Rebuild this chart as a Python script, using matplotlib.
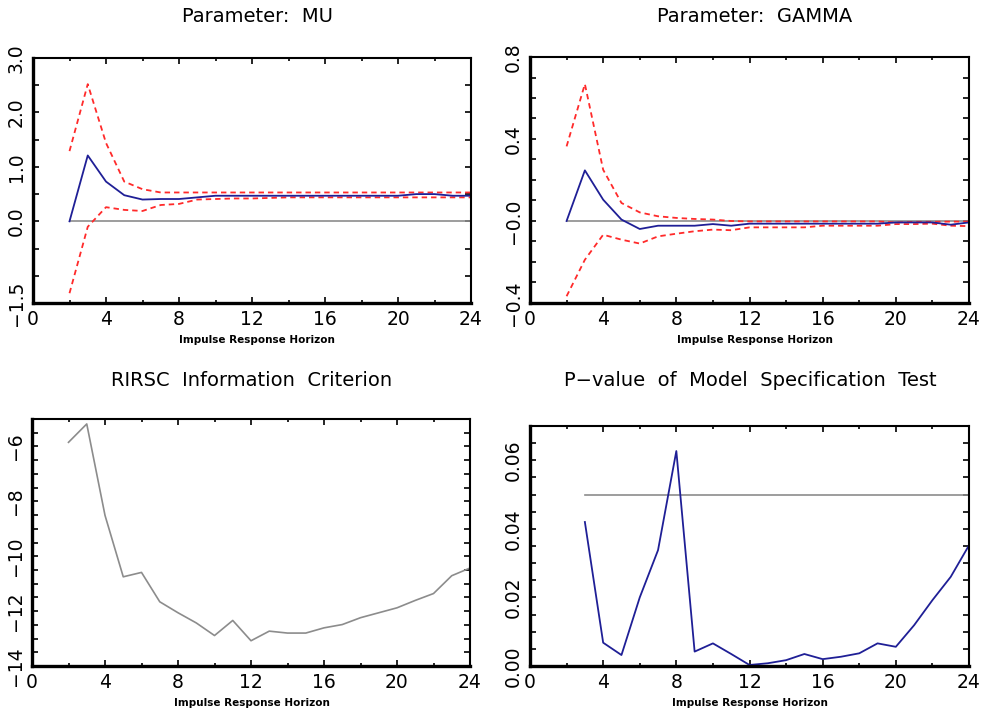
import numpy as np
import matplotlib
matplotlib.use("Agg")
import matplotlib.pyplot as plt

plt.rcParams['font.family'] = ['DejaVu Sans']

horizon = list(range(2, 25))

# Parameter: MU
mu_est = [0.0, 1.21, 0.73, 0.48, 0.40, 0.41, 0.41, 0.44, 0.47, 0.47, 0.47, 0.47,
          0.47, 0.47, 0.47, 0.47, 0.47, 0.47, 0.47, 0.50, 0.50, 0.47, 0.47]
mu_upper = [1.29, 2.52, 1.44, 0.73, 0.59, 0.53, 0.53, 0.53, 0.53, 0.53, 0.53, 0.53,
            0.53, 0.53, 0.53, 0.53, 0.53, 0.53, 0.53, 0.53, 0.53, 0.53, 0.53]
mu_lower = [-1.32, -0.10, 0.26, 0.21, 0.19, 0.30, 0.32, 0.40, 0.41, 0.42, 0.42, 0.43,
            0.44, 0.44, 0.44, 0.44, 0.44, 0.44, 0.44, 0.44, 0.44, 0.44, 0.44]

# Parameter: GAMMA
gamma_est = [0.0, 0.247, 0.104, 0.007, -0.039, -0.023, -0.023, -0.023, -0.015, -0.023,
             -0.013, -0.013, -0.013, -0.013, -0.013, -0.013, -0.013, -0.013, -0.007,
             -0.007, -0.007, -0.018, -0.007]
gamma_upper = [0.364, 0.668, 0.25, 0.088, 0.042, 0.023, 0.015, 0.010, 0.007, 0.0,
               -0.002, -0.002, -0.002, -0.002, -0.002, -0.002, -0.002, -0.002, -0.007,
               -0.004, -0.004, -0.003, -0.003]
gamma_lower = [-0.367, -0.189, -0.067, -0.091, -0.110, -0.075, -0.062, -0.050, -0.042,
               -0.045, -0.031, -0.031, -0.031, -0.031, -0.023, -0.023, -0.023, -0.023,
               -0.015, -0.015, -0.013, -0.023, -0.025]

# RIRSC information criterion
rirsc = [-5.85, -5.18, -8.51, -10.75, -10.59, -11.66, -12.06, -12.43, -12.89, -12.34,
         -13.08, -12.73, -12.80, -12.80, -12.61, -12.49, -12.24, -12.06, -11.88,
         -11.61, -11.36, -10.71, -10.43]

# P-value of model specification test
pv_horizon = list(range(3, 25))
pvalue = [0.042, 0.0068, 0.0032, 0.020, 0.0338, 0.0627, 0.0042, 0.0066, 0.0035, 0.0003,
          0.0008, 0.0017, 0.0035, 0.0020, 0.0027, 0.0037, 0.0066, 0.0056, 0.0119,
          0.0192, 0.026, 0.0352]
pv_level = 0.05

NAVY = '#1f1f96'
RED = '#ff2a2a'
GREY = '#8c8c8c'

fig = plt.figure(figsize=(9.84, 7.15), dpi=100)
W, H = 984, 715


def make_ax(l, t, r, b):
    return fig.add_axes([l / W, 1 - b / H, (r - l) / W, (b - t) / H])


def style(ax, yticks, ylabels, ylim):
    ax.set_xlim(0, 24)
    ax.set_ylim(*ylim)
    ax.set_xticks(range(0, 25, 4))
    ax.set_xticks(range(0, 25, 2), minor=True)
    ax.set_xticklabels([str(v) for v in range(0, 25, 4)])
    ax.set_yticks(yticks)
    ax.set_yticklabels(ylabels)
    ax.tick_params(which='both', direction='in', top=True, right=True, width=1.2,
                   labelsize=13.5)
    ax.tick_params(which='major', length=4)
    ax.tick_params(which='minor', length=2.5)
    ax.tick_params(axis='x', pad=5)
    ax.tick_params(axis='y', labelrotation=90, pad=5)
    for lab in ax.get_yticklabels():
        lab.set_va('center')
    for s in ['left', 'bottom']:
        ax.spines[s].set_linewidth(2.4)
    for s in ['top', 'right']:
        ax.spines[s].set_linewidth(1.5)


def labels(cx, ty, xy, title):
    fig.text(cx / W, 1 - ty / H, title, ha='center', va='center', fontsize=14)
    fig.text(cx / W, 1 - xy / H, 'Impulse Response Horizon', ha='center',
             va='center', fontsize=7.5, fontweight='bold')


# panel 1
ax1 = make_ax(33, 58, 471, 303)
ax1.plot([2, 24], [0, 0], color=GREY, lw=1.2)
ax1.plot(horizon, mu_upper, color=RED, lw=1.3, ls=(0, (3, 2.2)))
ax1.plot(horizon, mu_lower, color=RED, lw=1.3, ls=(0, (3, 2.2)))
ax1.plot(horizon, mu_est, color=NAVY, lw=1.3)
yt = list(np.arange(-1.5, 3.01, 0.5))
style(ax1, yt, ['\u22121.5', '', '', '0.0', '', '1.0', '', '2.0', '', '3.0'], (-1.5, 3.0))
labels(257, 17, 340, 'Parameter:  MU')

# panel 2
ax2 = make_ax(530, 57, 969, 303)
ax2.plot([2, 24], [0, 0], color=GREY, lw=1.2)
ax2.plot(horizon, gamma_upper, color=RED, lw=1.3, ls=(0, (3, 2.2)))
ax2.plot(horizon, gamma_lower, color=RED, lw=1.3, ls=(0, (3, 2.2)))
ax2.plot(horizon, gamma_est, color=NAVY, lw=1.3)
yt = list(np.arange(-0.4, 0.81, 0.1))
yl = [''] * len(yt)
yl[0], yl[4], yl[8], yl[12] = '\u22120.4', '\u22120.0', '0.4', '0.8'
style(ax2, yt, yl, (-0.4, 0.8))
labels(755, 17, 340, 'Parameter:  GAMMA')

# panel 3
ax3 = make_ax(32, 419, 470, 666)
ax3.plot(horizon, rirsc, color=GREY, lw=1.2)
yt = list(np.arange(-14, -4.99, 0.5))
yl = [''] * len(yt)
for v in [-14, -12, -10, -8, -6]:
    yl[int((v + 14) * 2)] = '\u2212' + str(-v)
style(ax3, yt, yl, (-14, -5))
labels(252, 380, 703, 'RIRSC  Information  Criterion')

# panel 4
ax4 = make_ax(530, 426, 969, 666)
ax4.plot([3, 24], [pv_level, pv_level], color=GREY, lw=1.2)
ax4.plot(pv_horizon, pvalue, color=NAVY, lw=1.3)
yt = list(np.arange(0, 0.0701, 0.005))
yl = [''] * len(yt)
for i, v in zip([0, 4, 8, 12], ['0.00', '0.02', '0.04', '0.06']):
    yl[i] = v
style(ax4, yt, yl, (0, 0.07))
labels(750, 380, 703, 'P\u2212value  of  Model  Specification  Test')

fig.savefig('out.png', dpi=100)
